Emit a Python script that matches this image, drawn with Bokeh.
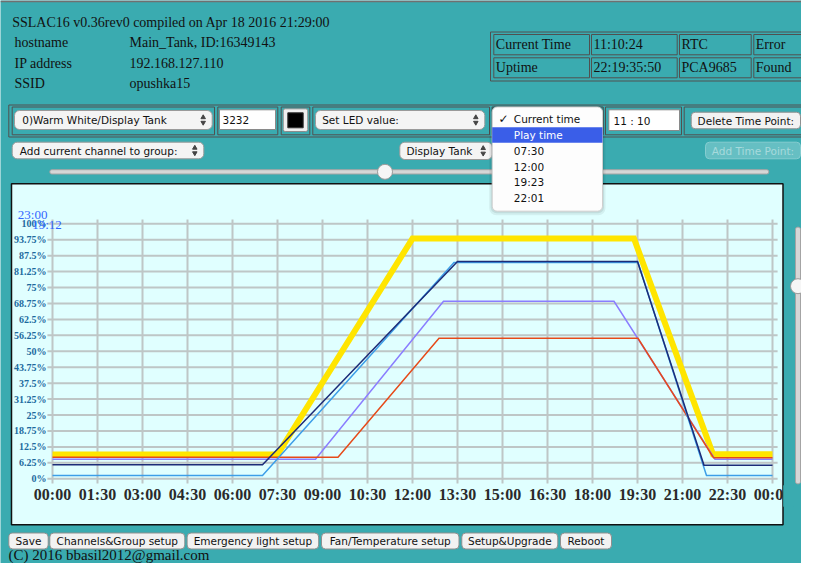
from bokeh.plotting import figure
from bokeh.models import Range1d, BoxAnnotation
from bokeh.core.properties import value
from bokeh.embed import file_html
from bokeh.resources import INLINE

# ---- chart data: LED channel schedules (time point, level in %)
warm_white_t = ["00:00", "07:30", "12:00", "19:23", "22:01", "24:00"]
warm_white_v = [9.5, 9.5, 94.2, 94.2, 9.6, 9.6]
violet_t = ["00:00", "08:46", "13:02", "18:43", "22:05", "24:00"]
violet_v = [7.7, 7.7, 69.6, 69.6, 7.7, 7.7]
red_t = ["00:00", "09:31", "12:53", "19:31", "22:02", "24:00"]
red_v = [8.5, 8.5, 55.1, 55.1, 8.3, 8.3]
sky_t = ["00:00", "07:00", "13:23", "19:31", "21:48", "24:00"]
sky_v = [1.3, 1.3, 84.8, 84.8, 1.3, 1.3]
navy_t = ["00:00", "07:00", "13:30", "19:30", "21:43", "24:00"]
navy_v = [5.5, 5.5, 85.2, 85.2, 5.3, 5.3]

time_tick_labels = ["00:00", "01:30", "03:00", "04:30", "06:00", "07:30", "09:00",
                    "10:30", "12:00", "13:30", "15:00", "16:30", "18:00", "19:30",
                    "21:00", "22:30", "00:00"]
time_tick_hours = [0, 1.5, 3, 4.5, 6, 7.5, 9, 10.5, 12, 13.5, 15, 16.5, 18, 19.5,
                   21, 22.5, 24]
pct_ticks = [0, 6.25, 12.5, 18.75, 25, 31.25, 37.5, 43.75, 50, 56.25, 62.5,
             68.75, 75, 81.25, 87.5, 93.75, 100]
pct_labels = ["0%", "6.25%", "12.5%", "18.75%", "25%", "31.25%", "37.5%", "43.75%",
              "50%", "56.25%", "62.5%", "68.75%", "75%", "81.25%", "87.5%",
              "93.75%", "100%"]

# ---- page texts
title_text = "SSLAC16 v0.36rev0 compiled on Apr 18 2016 21:29:00"
info_keys = ["hostname", "IP address", "SSID"]
info_vals = ["Main_Tank, ID:16349143", "192.168.127.110", "opushka15"]
status_rows = [["Current Time", "11:10:24", "RTC", "Error"],
               ["Uptime", "22:19:35:50", "PCA9685", "Found"]]
popup_items = ["Current time", "Play time", "07:30", "12:00", "19:23", "22:01"]
bottom_buttons = ["Save", "Channels&Group setup", "Emergency light setup",
                  "Fan/Temperature setup", "Setup&Upgrade", "Reboot"]
footer_text = "(C) 2016 bbasil2012@gmail.com"

TEAL = "#3AABB0"
SERIF = value("Liberation Serif")
SANS = value("DejaVu Sans")

FIG_W, FIG_H = 801, 563
PX_L, PX_T = 0, 0
PX_R, PX_B = PX_L + FIG_W, PX_T + FIG_H

# chart plot area in page pixels
X0, PX_PER_H = 52.0, 30.0
Y0, PX_PER_PCT = 478.3, 2.55


def hours(t):
    h, m = t.split(":")
    return int(h) + int(m) / 60.0


p = figure(width=FIG_W, height=FIG_H, x_range=Range1d(PX_L, PX_R),
           y_range=Range1d(PX_B, PX_T), toolbar_location=None,
           output_backend="svg", x_axis_location=None, y_axis_location=None,
           min_border=0, background_fill_color=TEAL, border_fill_color=TEAL,
           outline_line_color=None)
p.grid.visible = False
p.extra_x_ranges = {"t": Range1d(-(X0 - PX_L) / PX_PER_H, (PX_R - X0) / PX_PER_H)}
p.extra_y_ranges = {"pct": Range1d(-(PX_B - Y0) / PX_PER_PCT, (Y0 - PX_T) / PX_PER_PCT)}


def box(l, t, r, b, fill=None, line=None, radius=0, lw=1, alpha=1.0):
    p.add_layout(BoxAnnotation(left=l, right=r, top=t, bottom=b, level="underlay",
                               fill_color=fill, fill_alpha=alpha if fill else 0,
                               line_color=line, line_alpha=1 if line else 0,
                               line_width=lw, border_radius=int(radius)))


def txt(x, y, s, font=SERIF, size="14px", color="#111111", align="left", style="normal"):
    p.text(x=[x], y=[y], text=[s], text_font=font, text_font_size=size,
           text_color=color, text_align=align, text_baseline="middle",
           text_font_style=style)


def arrows(x, y):
    p.scatter([x], [y - 2.6], marker="triangle", size=4.5, color="#444444")
    p.scatter([x], [y + 2.6], marker="inverted_triangle", size=4.5, color="#444444")


def select(l, t, r, b, s, tx):
    box(l, t, r, b, "#F4F4F4", "#9A9A9A", 5)
    txt(tx, (t + b) / 2, s, SANS, "10.5px", "#111111")
    arrows(r - 9, (t + b) / 2)


def button(l, t, r, b, s, fill="#F2F2F2", line="#8F8F8F", color="#111111"):
    box(l, t, r, b, fill, line, 4)
    txt((l + r) / 2, (t + b) / 2, s, SANS, "10.5px", color, "center")


# ---- header
box(0, 0, 817, 1.8, "#707070")
txt(11.7, 21.7, title_text)
for i, (k, v) in enumerate(zip(info_keys, info_vals)):
    y = 42 + i * 20.6
    txt(14, y, k)
    txt(129, y, v)

box(490, 31.5, 805, 80.5, None, "#505050")
col_edges = [(493.3, 589), (591, 676.7), (679, 750.7), (753.3, 801.7)]
row_edges = [(34, 54.3), (57.3, 77.3)]
for ri, (t, b) in enumerate(row_edges):
    for ci, (l, r) in enumerate(col_edges):
        box(l, t, r, b, None, "#505050")
        txt(l + 2, (t + b) / 2, status_rows[ri][ci])

# ---- control row
box(8.3, 104.5, 808, 136.5, None, "#505050")
cells = [(11.7, 214), (217.3, 277.3), (280.7, 309.3), (312.3, 489),
         (491.7, 602.7), (605, 681), (683.7, 806)]
for l, r in cells:
    box(l, 106.5, r, 134.3, None, "#505050")
select(14, 110, 211.7, 129, "0)Warm White/Display Tank", 21.7)
box(219, 109.3, 275, 129, "#FFFFFF", "#8A8A8A")
txt(222, 119.5, "3232", SANS, "10.5px")
box(282.7, 108.3, 307.3, 131, "#EFEFEF", "#8C8C8C", 2)
box(287.3, 112.3, 302.7, 127.3, "#000000", "#333333")
select(315, 110, 484.3, 129, "Set LED value:", 321.7)
box(608.3, 109.3, 679, 130, "#FFFFFF", "#8A8A8A")
txt(613, 120, "11 : 10", SANS, "10.5px")
button(690.7, 111.7, 800, 128.3, "Delete Time Point:")

# ---- second row
select(11.7, 141.7, 203.3, 158.3, "Add current channel to group:", 19.3)
select(399.3, 141.7, 491.7, 159, "Display Tank", 406)
button(705, 141.7, 800, 158.3, "Add Time Point:", "#66BFC3", "#86CDD0", "#A6DADC")

# horizontal time slider
box(49.3, 169.2, 768.3, 173.5, "#D6D6D6", "#A4A4A4", 2)

# ---- chart box
box(11, 183.2, 782.5, 524.3, "#E0FFFF", "#111111", 0, 1.5)

# vertical slider
box(795, 226.7, 800, 483.3, "#D6D6D6", "#A4A4A4", 2)

# ---- dropdown popup (drawn over the chart box and slider)
box(488.7, 104.5, 605, 214.7, "#000000", None, 7, alpha=0.06)
box(490.2, 105.5, 603.5, 212.7, "#000000", None, 6, alpha=0.08)
box(491.7, 106.5, 602, 210.7, "#FDFDFD", "#CFCFCF", 5)
box(491.7, 126.8, 602, 142.3, "#3A5EE8", None)
popup_y = [118.3, 134.5, 150, 166, 181.7, 197.7]
for s, y in zip(popup_items, popup_y):
    txt(513.3, y, s, SANS, "10.5px", "#FFFFFF" if s == "Play time" else "#111111")
txt(498, 118.8, "\u2713", SANS, "12px", "#111111", style="bold")

# slider thumbs
p.scatter([384.5, 797.5], [171.3, 285.7], marker="circle", size=15,
          fill_color="#F6F6F6", line_color="#9A9A9A")

# ---- chart grid
grid_c = "#BEC6C6"
p.segment(x0=time_tick_hours, y0=[-1.8] * len(time_tick_hours),
          x1=time_tick_hours, y1=[101.7] * len(time_tick_hours),
          x_range_name="t", y_range_name="pct", line_color=grid_c, line_width=2)
p.segment(x0=[-0.17] * len(pct_ticks), y0=pct_ticks,
          x1=[24.17] * len(pct_ticks), y1=pct_ticks,
          x_range_name="t", y_range_name="pct", line_color=grid_c, line_width=2)

p.text(x=[0] * len(pct_ticks), y=pct_ticks, text=pct_labels, x_offset=-6,
       x_range_name="t", y_range_name="pct", text_font=SERIF, text_font_size="10px",
       text_font_style="bold", text_color="#1D6A9E", text_align="right",
       text_baseline="middle")
p.text(x=time_tick_hours, y=[0] * len(time_tick_hours), text=time_tick_labels,
       y_offset=16, x_range_name="t", y_range_name="pct", text_font=SERIF,
       text_font_size="16px", text_font_style="bold", text_color="#2A2A2A",
       text_align="center", text_baseline="middle")
# right edge of the box clips the last label
p.quad(left=[783.3], right=[793], top=[485], bottom=[506], color=TEAL)

# ---- channel lines
series = [(warm_white_t, warm_white_v, "#FFE500", 6),
          (violet_t, violet_v, "#8A7DFF", 1.5),
          (red_t, red_v, "#E64A19", 1.5),
          (sky_t, sky_v, "#3D9EE8", 1.5),
          (navy_t, navy_v, "#1C2C78", 1.5)]
for ts, vs, c, w in series:
    p.line(x=[hours(t) for t in ts], y=vs, x_range_name="t", y_range_name="pct",
           line_color=c, line_width=w, line_join="miter")

# marker labels in the corner
txt(17.3, 214, "23:00", SERIF, "13px", "#3366FF")
txt(31.7, 224, "19:12", SERIF, "13px", "#3366FF")

# ---- bottom buttons and footer (kept inside the canvas)
btn_edges = [(8.3, 47.7), (49.3, 184.3), (186.6, 318.2), (321, 458.5),
             (461.3, 557.3), (560, 611)]
for s, (l, r) in zip(bottom_buttons, btn_edges):
    button(l, 532.5, r, 548.5, s)
txt(8, 554.8, footer_text, SERIF, "15px")

open("out.html", "w").write(file_html(p, INLINE))
